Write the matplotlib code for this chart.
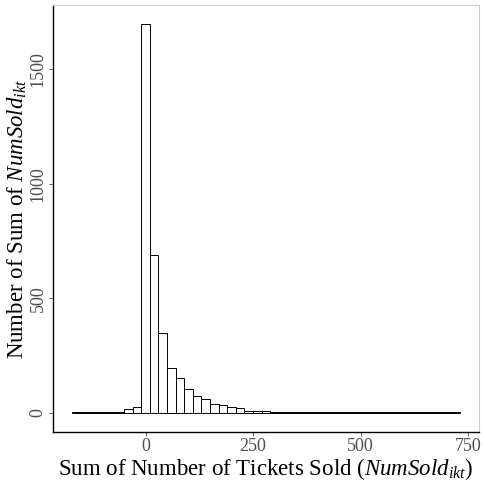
import numpy as np
import matplotlib
matplotlib.use('Agg')
import matplotlib.pyplot as plt

plt.rcParams['font.family'] = ['Liberation Serif', 'DejaVu Serif']
plt.rcParams['mathtext.fontset'] = 'custom'
plt.rcParams['mathtext.rm'] = 'Liberation Serif'
plt.rcParams['mathtext.it'] = 'Liberation Serif:italic'

# bin centres (binwidth 20) and counts
centers = np.arange(-160, 721, 20)
counts = [2, 1, 2, 1, 2, 4, 16, 23, 1697, 688, 349, 195, 149, 101, 72, 60, 38, 32, 26, 20,
          9, 6, 5, 4, 3, 4, 2, 3, 2, 4, 1, 2, 1, 1, 1, 3, 1, 1, 1, 1, 1, 1, 1, 1, 1]
binwidth = 20

fig = plt.figure(figsize=(4.83, 4.84), dpi=100)
ax = fig.add_axes([0.1097, 0.1074, 0.882, 0.8823])

ax.bar(centers, counts, width=binwidth, color='white', edgecolor='black', linewidth=0.7)

ax.set_xlim(-215, 775)
ax.set_ylim(-85, 1782)
ax.set_xticks([0, 250, 500, 750])
ax.set_yticks([0, 500, 1000, 1500])
ax.tick_params(axis='both', length=3, width=0.6, pad=1.5, labelsize=13, colors='#4d4d4d', labelcolor='#4d4d4d')
for lab in ax.get_yticklabels():
    lab.set_rotation(90)
    lab.set_va('center')

for s in ['top', 'right']:
    ax.spines[s].set_color('#cccccc')
for s in ['left', 'bottom']:
    ax.spines[s].set_color('black')
    ax.spines[s].set_linewidth(1.0)

ax.set_xlabel('Sum of Number of Tickets Sold ($NumSold_{ikt}$)', fontsize=16.5)
ax.set_ylabel('Number of Sum of $NumSold_{ikt}$', fontsize=16.5)
ax.xaxis.set_label_coords(0.5, -0.056)
ax.yaxis.set_label_coords(-0.057, 0.5)

fig.savefig('out.png', dpi=100)
